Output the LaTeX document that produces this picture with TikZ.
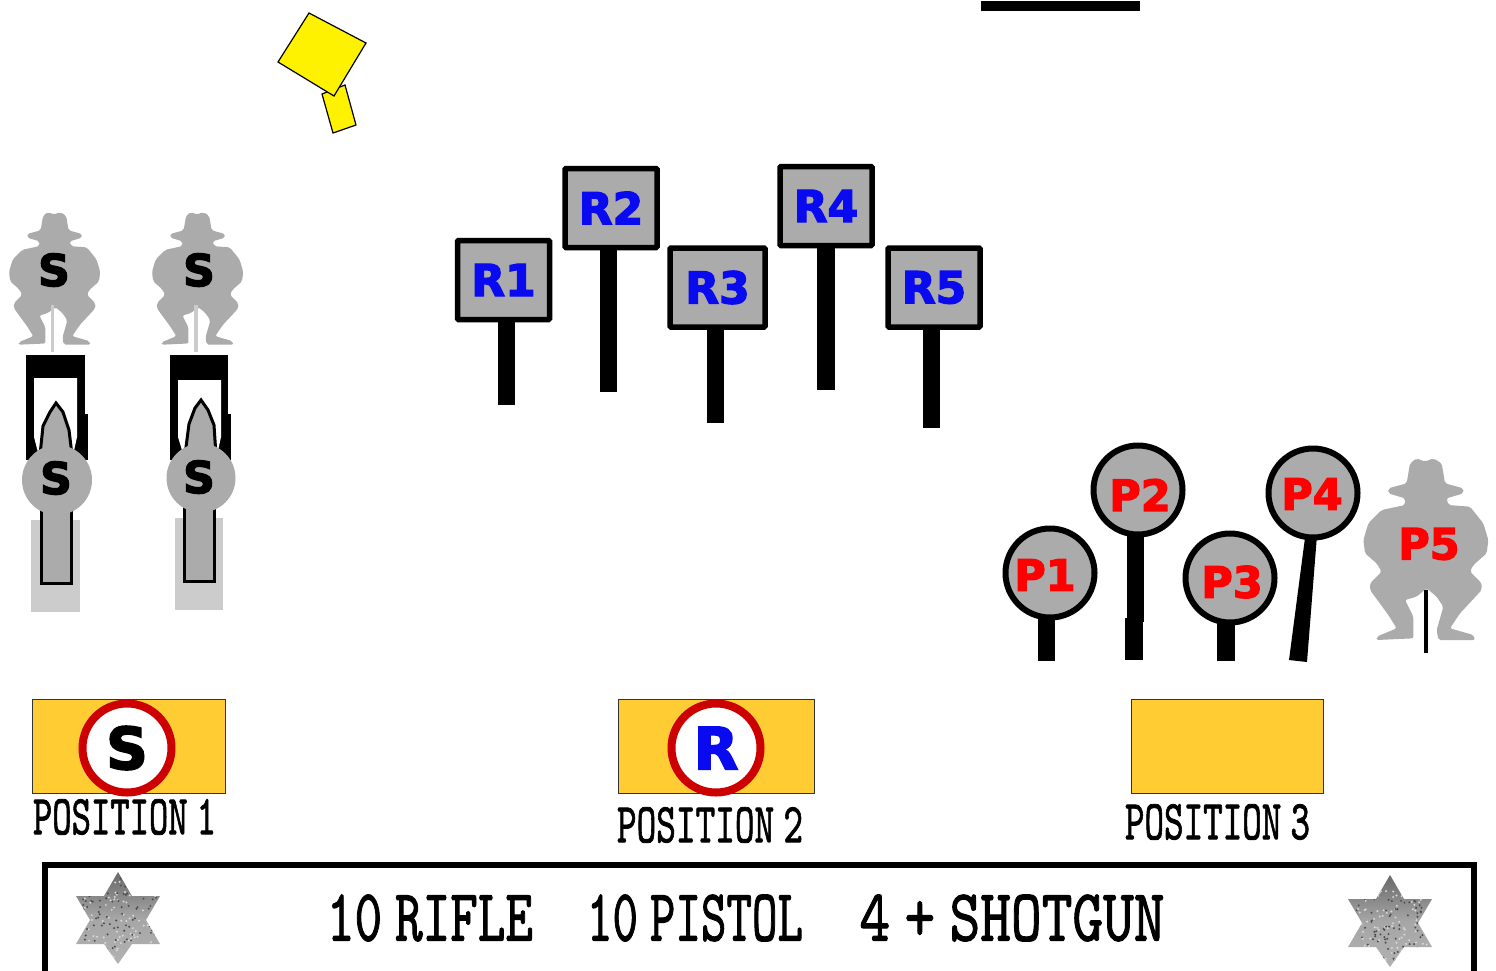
\documentclass[tikz,border=0pt]{standalone}
\usepackage{fontspec}
\setmainfont{DejaVu Sans}
\newfontfamily\slabfont[FakeBold=1.5]{Latin Modern Mono}
\newfontfamily\heavy[FakeBold=3]{DejaVu Sans Bold}
\usetikzlibrary{calc}
\definecolor{tgray}{HTML}{ABABAB}
\definecolor{pale}{HTML}{CCCCCC}
\definecolor{gold}{HTML}{FFCC33}
\definecolor{ringred}{HTML}{CC0000}
\definecolor{signblue}{HTML}{0A0AF0}
\tikzset{
  lab/.style={inner sep=0pt,font=\heavy\fontsize{44}{44}\selectfont},
  signbox/.style={draw=black,line width=5.5pt,fill=tgray,rounded corners=1pt,minimum width=92pt,minimum height=79pt,inner sep=0pt,text=signblue,font=\heavy\fontsize{44}{44}\selectfont},
  post/.style={fill=black,draw=none},
  pistol/.style={circle,draw=black,line width=6pt,fill=tgray,minimum size=89pt,inner sep=0pt},
  plab/.style={inner sep=0pt,text=red,font=\heavy\fontsize{43}{43}\selectfont},
  padbox/.style={draw=black!80,line width=1pt,fill=gold},
  ring/.style={circle,draw=ringred,line width=8pt,fill=white,minimum size=89pt,inner sep=0pt},
  slab/.style={inner sep=0pt}
}
\newcommand{\slabtext}[3]{\resizebox{#1pt}{#2pt}{\slabfont #3}}
\newcommand{\gap}{\hspace{-.28em}}
\newcommand{\cowboy}[3]{%
 \begin{scope}[shift={(#1,#2)},x=#3*0.3333pt,y=-#3*0.3333pt]
  \fill[tgray,rounded corners=2pt] (25,-275)--(50,-260)--(60,-200)--(115,-185)--(115,-170)--(65,-155)--(70,-135)--(135,-130)--(175,-80)--(190,-30)--(185,10)--(145,45)--(135,65)--(170,100)--(170,120)--(105,190)--(75,235)--(145,255)--(150,270)--(40,270)--(35,240)--(55,170)--(35,140)--(5,115)--(-25,140)--(-60,150)--(-35,200)--(-35,265)--(-145,270)--(-145,260)--(-85,235)--(-110,195)--(-165,120)--(-165,100)--(-130,65)--(-145,40)--(-180,10)--(-185,-30)--(-170,-80)--(-130,-120)--(-60,-135)--(-60,-155)--(-110,-170)--(-110,-185)--(-55,-200)--(-45,-260)--(-25,-275)--(0,-265)--cycle;
 \end{scope}}
\newcommand{\badge}[2]{%
 \begin{scope}[shift={(#1,#2)}]
  \begin{scope}
   \clip (0,-46)--(14,-22)--(42,-22)--(28,2)--(42,26)--(14,26)--(0,46)--(-14,26)--(-42,26)--(-28,2)--(-42,-22)--(-14,-22)--cycle;
   \shade[top color=black!60,bottom color=black!30,middle color=black!35] (-44,-48) rectangle (44,48);
   \foreach \i in {1,...,200}{
     \pgfmathsetmacro{\xa}{rand*38}\pgfmathsetmacro{\ya}{rand*42}
     \pgfmathsetmacro{\ka}{mod(\i,2)==0?15:70}
     \fill[black!\ka] (\xa,\ya) circle (1.1pt);}
  \end{scope}
 \end{scope}}
\begin{document}
\begin{tikzpicture}[x=1pt,y=-1pt]
\useasboundingbox (0,0) rectangle (1496,970);
\begin{scope}
\clip (0,0) rectangle (1496,970);
\fill[white] (0,0) rectangle (1496,970);
\pgfmathsetseed{42}

% flag and bar
\draw[black,line width=1.2pt,fill=yellow] (322,94)--(345,85)--(356,125)--(333,133)--cycle;
\draw[black,line width=1.2pt,fill=yellow] (309,13)--(366,43)--(334,96)--(278,62)--cycle;
\fill[black] (981,1) rectangle (1140,11);

% left steel column 1
\cowboy{54}{279}{0.73}
\node[lab,text=black] (s1) at (54,270) {S};
\fill[pale] (50.5,305) rectangle (54,352);
\fill[black] (26,355) rectangle (85,460);
\fill[black] (85,414) rectangle (88,460);
\fill[white] (34,378)--(77,378)--(77,437)--(72,460)--(40,460)--(34,437)--cycle;
\draw[black,line width=3pt,fill=tgray] (40,455)--(43,426)--(50,412)--(56,403)--(63,412)--(69,430)--(72,455);
\fill[pale] (31,520) rectangle (80,612);
\draw[black,line width=3pt,fill=tgray] (41,505) rectangle (71,583);
\node[circle,fill=tgray,minimum size=70pt,inner sep=0pt] (c1) at (57,480) {};
\node[lab,text=black] (t1) at (56,478) {S};

% left steel column 2
\cowboy{197}{279}{0.73}
\node[lab,text=black] (s2) at (199,270) {S};
\fill[pale] (194,305) rectangle (197.5,352);
\fill[black] (170,355) rectangle (228,460);
\fill[black] (228,414) rectangle (231,460);
\fill[white] (178,380)--(221,380)--(221,437)--(216,460)--(185,460)--(178,437)--cycle;
\draw[black,line width=3pt,fill=tgray] (185,455)--(189,424)--(195,408)--(201,400)--(208,410)--(214,425)--(216,455);
\fill[pale] (175,518) rectangle (223,610);
\draw[black,line width=3pt,fill=tgray] (184,505) rectangle (214,581);
\node[circle,fill=tgray,minimum size=69pt,inner sep=0pt] (c2) at (201,478) {};
\node[lab,text=black] (t2) at (199,477) {S};

% rifle signs
\fill[post] (498,321) rectangle (515,405);
\node[signbox] (r1) at (503.5,280) {\raisebox{-1pt}{R1}};
\fill[post] (600,249) rectangle (617,392);
\node[signbox] (r2) at (611,208) {\raisebox{-1pt}{R2}};
\fill[post] (707,329) rectangle (724,423);
\node[signbox,minimum width=95pt] (r3) at (717.5,287.5) {\raisebox{-1pt}{R3}};
\fill[post] (817,247) rectangle (835,390);
\node[signbox] (r4) at (826,206) {R4};
\fill[post] (923,329) rectangle (940,428);
\node[signbox] (r5) at (934,287.5) {R5};

% pistol plates
\fill[post] (1038,612) rectangle (1055,661);
\fill[post] (1127,530) rectangle (1144,622);
\fill[post] (1125,618) rectangle (1143,660);
\fill[post] (1217,620) rectangle (1235,661);
\fill[post] (1306,530)--(1317,535)--(1307,662)--(1289,660)--cycle;
\node[pistol] (p1) at (1050,573) {};
\node[plab] (t-p1) at (1045,575) {P1};
\node[pistol] (p2) at (1138,490) {};
\node[plab] (t-p2) at (1140,495) {P2};
\node[pistol] (p3) at (1230,578) {};
\node[plab] (t-p3) at (1232,582) {P3};
\node[pistol] (p4) at (1313,493) {};
\node[plab] (t-p4) at (1312,494) {P4};
\cowboy{1425}{550}{1}
\fill[black] (1423.5,590) rectangle (1427.5,653);
\node[plab] (p5) at (1429,544) {P5};

% positions
\node[padbox,minimum width=193pt,minimum height=94pt,inner sep=0pt] (pad1) at (128.5,746) {};
\node[ring,font=\heavy\fontsize{58}{58}\selectfont] (ring1) at (127,748) {S};
\node[padbox,minimum width=196pt,minimum height=94pt,inner sep=0pt] (pad2) at (716,746) {};
\node[ring,text=signblue,font=\heavy\fontsize{58}{58}\selectfont] (ring2) at (716,748) {R};
\node[padbox,minimum width=192pt,minimum height=94pt,inner sep=0pt] (pad3) at (1227,746) {};
\node[slab] (l1) at (124.5,817) {\slabtext{183}{35}{POSITION\gap{} 1}};
\node[slab] (l2) at (710,825) {\slabtext{186}{35}{POSITION\gap{} 2}};
\node[slab] (l3) at (1217.5,822) {\slabtext{185}{35}{POSITION\gap{} 3}};

% bottom banner
\draw[black,line width=6pt] (45,985)--(45,865)--(1474,865)--(1474,985);
\badge{118}{918}
\badge{1390}{921}
\node[slab] (b1) at (430,918) {\slabtext{206}{46}{10\gap{} RIFLE}};
\node[slab] (b2) at (695,918) {\slabtext{216}{46}{10\gap{} PISTOL}};
\node[slab] (b3) at (1012,918) {\slabtext{305}{46}{4\gap{} +\gap{} SHOTGUN}};
\end{scope}
\end{tikzpicture}
\end{document}
